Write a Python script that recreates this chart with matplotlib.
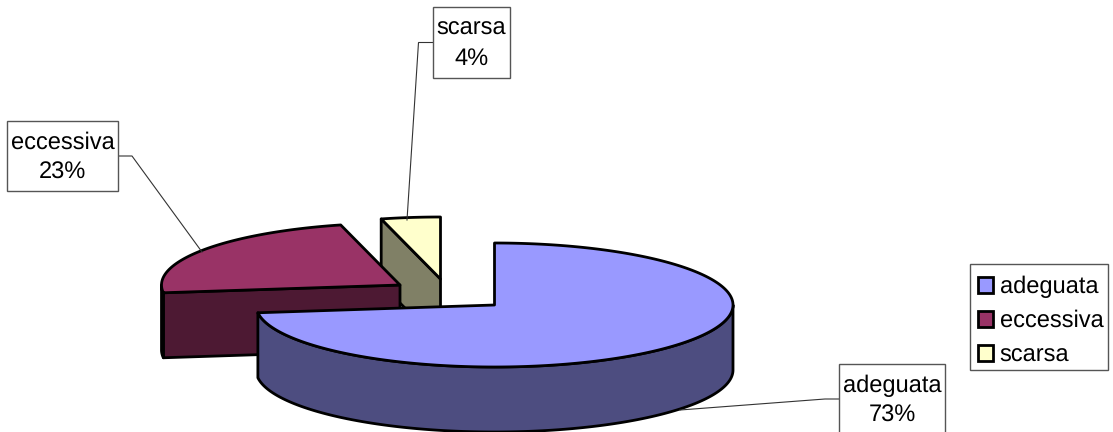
import numpy as np
import matplotlib
matplotlib.use("Agg")
import matplotlib.pyplot as plt
from matplotlib.patches import Patch, Polygon, Rectangle

plt.rcParams["font.family"] = ["Liberation Sans", "DejaVu Sans"]
plt.rcParams["text.hinting"] = "no_hinting"

categories = ["adeguata", "eccessiva", "scarsa"]
shares = [73, 23, 4]
top_colors = ["#9999FF", "#993366", "#FFFFCC"]
wall_colors = ["#4D4D80", "#4D1933", "#808066"]

# Layout of the tilted pie, in pixels
W, H = 1113, 432
RX, RY, DEPTH = 238.5, 62.0, 65.0
apexes = [(494.5, 305.0), (400.0, 285.0), (440.5, 279.0)]
OUTLINE = 2.0
FONT_SIZE = 17.0

# Callout boxes: x0, y0, x1, y1 and the leader line
callouts = {
    "adeguata": ((839, 364, 945, 440), [(839, 399), (825, 399), (680, 410)]),
    "eccessiva": ((7, 121, 118, 191), [(118, 156), (132, 156), (202, 252)]),
    "scarsa": ((433, 7, 510, 78), [(433, 42.5), (418.5, 42.5), (407, 220)]),
}


def rim(center, a0, a1, drop=0.0):
    """Points along the ellipse; angles run clockwise from twelve o'clock."""
    t = np.radians(np.linspace(a0, a1, max(int(abs(a1 - a0) * 2), 2)))
    return np.column_stack(
        (center[0] + RX * np.sin(t), center[1] - RY * np.cos(t) + drop)
    )


def poly(ax, pts, color, z):
    ax.add_patch(
        Polygon(pts, closed=True, facecolor=color, edgecolor="black",
                linewidth=OUTLINE, joinstyle="round", zorder=z)
    )


fig = plt.figure(figsize=(W / 100, H / 100), dpi=100)
ax = fig.add_axes([0, 0, 1, 1])
ax.set_xlim(0, W)
ax.set_ylim(H, 0)
ax.axis("off")

edges = np.cumsum([0] + shares) / sum(shares) * 360.0
spans = list(zip(edges[:-1], edges[1:]))

# Back slices are painted first so the large slice sits in front
for i in [2, 1, 0]:
    a0, a1 = spans[i]
    c = np.array(apexes[i])
    z = 10 - i * 3
    start = rim(c, a0, a0)[0]
    if i > 0:
        # Cut face from the apex out to the slice's first edge
        poly(ax, [start, c, c + [0, DEPTH], start + [0, DEPTH]], wall_colors[i], z)
    # Outer wall, only where the rim faces the viewer
    lo, hi = max(a0, 90.0), min(a1, 270.0)
    if lo < hi:
        up = rim(c, lo, hi)
        poly(ax, np.vstack((up, rim(c, lo, hi, DEPTH)[::-1])), wall_colors[i], z + 0.1)
    poly(ax, np.vstack((c, rim(c, a0, a1))), top_colors[i], z + 0.2)

# Callouts with their leader lines
for name, share in zip(categories, shares):
    (x0, y0, x1, y1), leader = callouts[name]
    ax.plot(*zip(*leader), color="#333333", lw=0.8, zorder=20, solid_joinstyle="miter")
    ax.add_patch(Rectangle((x0, y0), x1 - x0, y1 - y0, facecolor="white",
                           edgecolor="#555555", lw=1.0, zorder=21))
    cx = (x0 + x1) / 2
    ax.text(cx, y0 + 28, name, ha="center", va="baseline", fontsize=FONT_SIZE, color="black", zorder=22)
    ax.text(cx, y0 + 57.5, f"{share}%", ha="center", va="baseline", fontsize=FONT_SIZE, color="black", zorder=22)

# Legend frame is a separate box so the rows can sit lower inside it
ax.add_patch(Rectangle((970, 264), 138, 106, facecolor="white",
                       edgecolor="#555555", lw=1.0, zorder=21))
handles = [Patch(facecolor=col, edgecolor="black", linewidth=OUTLINE) for col in top_colors]
leg = ax.legend(
    handles, categories, loc="upper left",
    bbox_to_anchor=(970 / W, 1 - 268 / H), bbox_transform=ax.transAxes,
    borderaxespad=0, fontsize=FONT_SIZE, frameon=False,
    handlelength=0.66, handleheight=0.66,
    handletextpad=0.27, labelspacing=0.5, borderpad=0.32,
)
leg.set_zorder(22)

fig.savefig("out.png", dpi=100, facecolor="white")
